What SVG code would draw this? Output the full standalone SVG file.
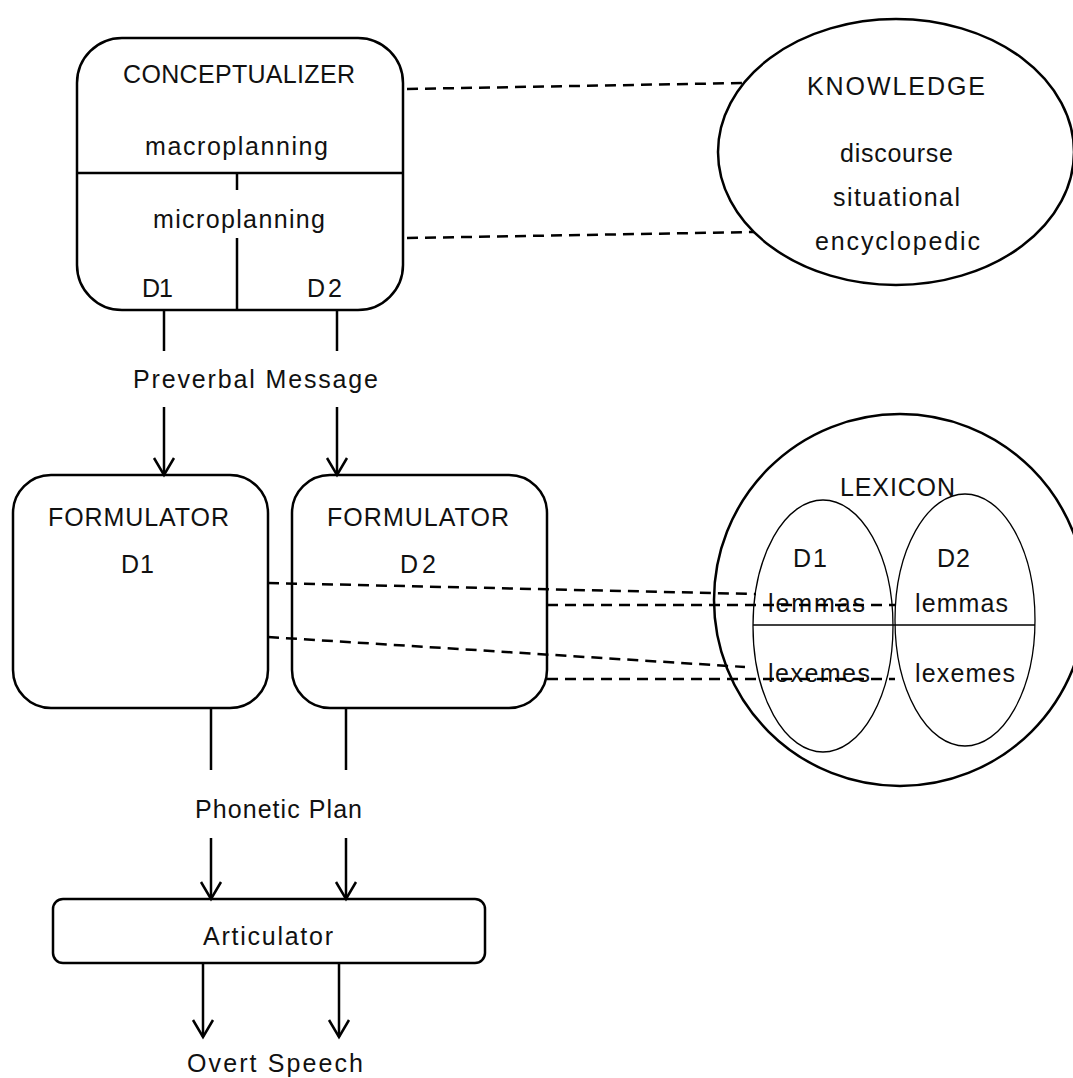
<svg xmlns="http://www.w3.org/2000/svg" width="1073" height="1078" viewBox="0 0 1073 1078">
<style>
.box{fill:none;stroke:#000;stroke-width:2.5}
.thin{fill:none;stroke:#000;stroke-width:1.3}
.ln{fill:none;stroke:#000;stroke-width:2.5}
.dash{fill:none;stroke:#000;stroke-width:2.5;stroke-dasharray:11 7}
text{font-family:"Liberation Sans",Arial,sans-serif;font-size:25px;fill:#111}
</style>
<defs>
<marker id="arr" viewBox="-20 -12 24 24" markerWidth="24" markerHeight="24" refX="0" refY="0" orient="auto" markerUnits="userSpaceOnUse" overflow="visible">
<path d="M-17,-10 L0,0 L-17,10" fill="none" stroke="#000" stroke-width="2.5"/>
</marker>
</defs>
<rect width="1073" height="1078" fill="#fff"/>

<g id="conceptualizer">
<rect class="box" x="77" y="38" width="326" height="272" rx="45"/>
<line class="ln" x1="77" y1="173" x2="403" y2="173"/>
<line class="ln" x1="237" y1="173" x2="237" y2="190"/>
<line class="ln" x1="237" y1="238" x2="237" y2="310"/>
<text x="123" y="83" textLength="232">CONCEPTUALIZER</text>
<text x="145" y="155" textLength="183">macroplanning</text>
<text x="153" y="228" textLength="172">microplanning</text>
<text x="142" y="297" textLength="31">D1</text>
<text x="307" y="297" textLength="35">D2</text>
</g>

<g id="knowledge">
<ellipse class="box" cx="896" cy="152" rx="178" ry="133"/>
<text x="807" y="95" textLength="178">KNOWLEDGE</text>
<text x="840" y="162" textLength="113">discourse</text>
<text x="833" y="206" textLength="127">situational</text>
<text x="815" y="250" textLength="165">encyclopedic</text>
</g>

<g id="preverbal">
<text x="133" y="388" textLength="245">Preverbal Message</text>
</g>

<g id="formulator-d1">
<rect class="box" x="13" y="475" width="255" height="233" rx="38"/>
<text x="48" y="526" textLength="181">FORMULATOR</text>
<text x="121" y="573" textLength="33">D1</text>
</g>

<g id="formulator-d2">
<rect class="box" x="292" y="475" width="255" height="233" rx="38"/>
<text x="327" y="526" textLength="182">FORMULATOR</text>
<text x="400" y="573" textLength="36">D2</text>
</g>

<g id="lexicon">
<circle class="box" cx="900" cy="600" r="186"/>
<ellipse class="thin" cx="823" cy="626" rx="70" ry="126"/>
<ellipse class="thin" cx="965" cy="620" rx="70" ry="126"/>
<line class="thin" x1="753" y1="625" x2="1035" y2="625"/>
<text x="840" y="496" textLength="115">LEXICON</text>
<text x="793" y="567" textLength="34">D1</text>
<text x="937" y="567" textLength="33">D2</text>
<text x="768" y="612" textLength="97">lemmas</text>
<text x="915" y="612" textLength="93">lemmas</text>
<text x="768" y="682" textLength="102">lexemes</text>
<text x="915" y="682" textLength="100">lexemes</text>
</g>

<g id="phonetic-plan">
<text x="195" y="818" textLength="167">Phonetic Plan</text>
</g>

<g id="articulator">
<rect class="box" x="53" y="899" width="432" height="64" rx="10"/>
<text x="203" y="945" textLength="130">Articulator</text>
</g>

<g id="overt-speech">
<text x="187" y="1072" textLength="176">Overt Speech</text>
</g>

<g id="connectors">
<line class="ln" x1="164" y1="310" x2="164" y2="351"/>
<line class="ln" x1="337" y1="310" x2="337" y2="351"/>
<line class="ln" x1="164" y1="407" x2="164" y2="475" marker-end="url(#arr)"/>
<line class="ln" x1="337" y1="407" x2="337" y2="475" marker-end="url(#arr)"/>
<line class="ln" x1="211" y1="708" x2="211" y2="770"/>
<line class="ln" x1="346" y1="708" x2="346" y2="770"/>
<line class="ln" x1="211" y1="838" x2="211" y2="899" marker-end="url(#arr)"/>
<line class="ln" x1="346" y1="838" x2="346" y2="899" marker-end="url(#arr)"/>
<line class="ln" x1="203" y1="963" x2="203" y2="1037" marker-end="url(#arr)"/>
<line class="ln" x1="339" y1="963" x2="339" y2="1037" marker-end="url(#arr)"/>
<line class="dash" x1="407" y1="89" x2="742" y2="83"/>
<line class="dash" x1="407" y1="238" x2="754" y2="232"/>
<line class="dash" x1="268" y1="583" x2="756" y2="594"/>
<line class="dash" x1="547" y1="605" x2="895" y2="605"/>
<line class="dash" x1="268" y1="637" x2="745" y2="667"/>
<line class="dash" x1="547" y1="679" x2="895" y2="679"/>
</g>
</svg>
